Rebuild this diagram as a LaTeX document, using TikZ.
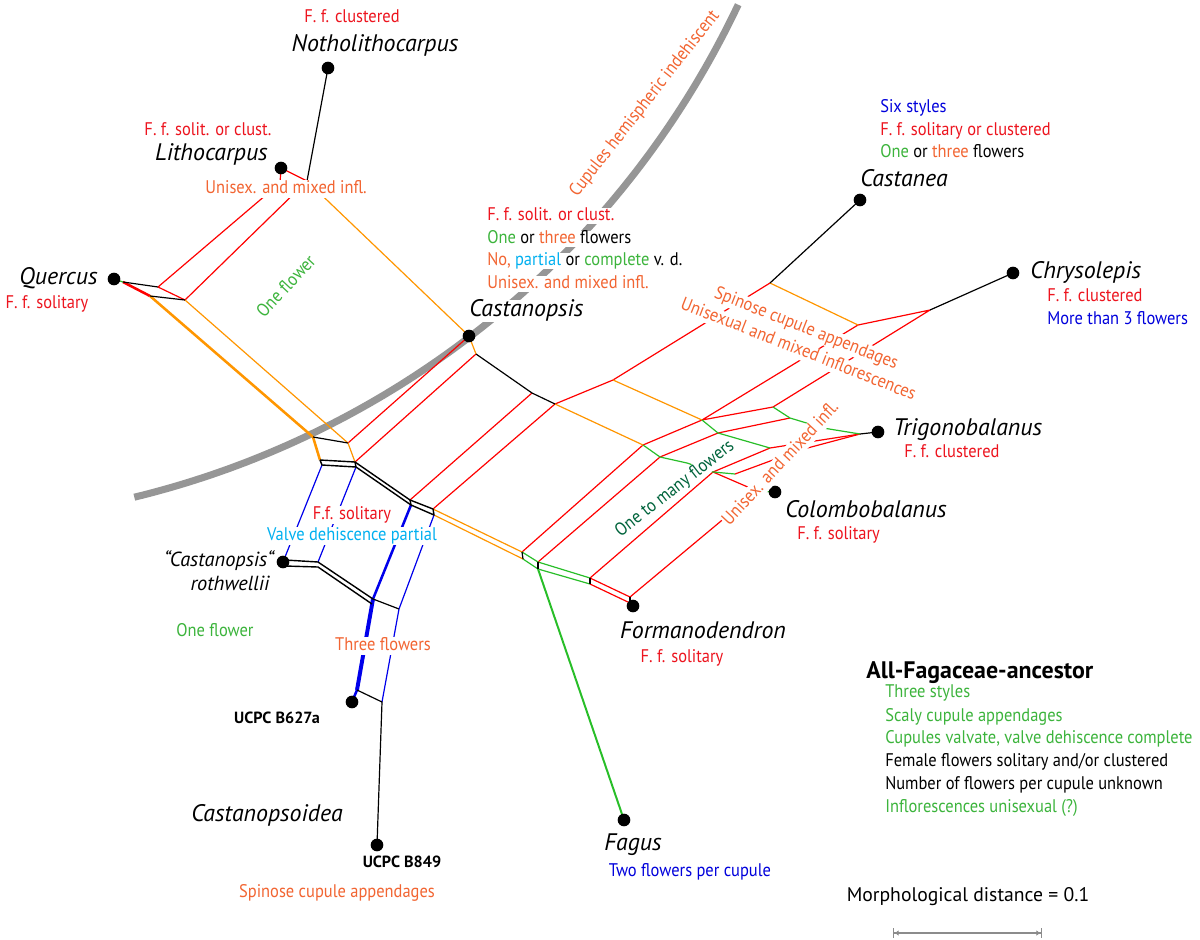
\documentclass[tikz,border=0pt]{standalone}
\usepackage{fontspec}
\setmainfont{PT Sans}
\newfontfamily\cnd[FakeStretch=0.9]{PT Sans}
\usetikzlibrary{arrows.meta}
\definecolor{lred}{RGB}{255,0,0}
\definecolor{lorg}{RGB}{255,150,0}
\definecolor{lgrn}{RGB}{40,190,40}
\definecolor{lblu}{RGB}{0,0,235}
\definecolor{tred}{RGB}{237,20,30}
\definecolor{torg}{RGB}{242,101,50}
\definecolor{tgrn}{RGB}{60,180,60}
\definecolor{tdgrn}{RGB}{0,100,60}
\definecolor{tblu}{RGB}{0,0,220}
\definecolor{tcyan}{RGB}{0,176,240}
\definecolor{arcgray}{RGB}{150,150,150}
\definecolor{sbgray}{RGB}{140,140,140}
\tikzset{
  eRed/.style={draw=lred, line width=0.85pt, line join=round},
  eRedT/.style={draw=lred, line width=1.8pt, line join=round},
  eOrg/.style={draw=lorg, line width=0.85pt, line join=round},
  eOrgT/.style={draw=lorg, line width=1.8pt, line join=round},
  eGrn/.style={draw=lgrn, line width=0.85pt, line join=round},
  eGrnT/.style={draw=lgrn, line width=1.4pt},
  eBlu/.style={draw=lblu, line width=0.85pt, line join=round},
  eBluT/.style={draw=lblu, line width=1.8pt},
  eBluTT/.style={draw=lblu, line width=2.8pt},
  eBlk/.style={draw=black, line width=0.85pt, line join=round},
  eBlkD/.style={draw=black, line width=1pt, line join=round},
  arcline/.style={draw=arcgray, line width=5pt},
  dot/.style={circle, fill=black, inner sep=0pt, minimum size=9pt},
  lab/.style={font=\cnd\fontsize{13}{15}\selectfont, inner sep=0pt, text height=9pt, text depth=2.5pt},
  halo/.style={fill=white, inner sep=0.6pt},
  tax/.style={font=\itshape\fontsize{17}{20}\selectfont, inner sep=0pt, text height=12pt, text depth=3.5pt},
  taxs/.style={font=\itshape\fontsize{14.5}{17}\selectfont, inner sep=0pt, text height=10pt, text depth=3pt},
  bld/.style={font=\bfseries\fontsize{11.5}{14}\selectfont, inner sep=0pt, text height=8.5pt, text depth=0pt},
  scalebar/.style={draw=sbgray, line width=1pt},
}
\begin{document}
\begin{tikzpicture}[x=0.025cm, y=-0.025cm]
\fill[white] (0,0) rectangle (1200,939);
\useasboundingbox (0,0) rectangle (1200,939);
% ---- coordinates ----
\coordinate (cNoth) at (328,68);
\coordinate (cLith) at (281,168);
\coordinate (cL2) at (280,183);
\coordinate (cN1) at (307,181);
\coordinate (cQ) at (114,279);
\coordinate (cQg) at (123,282);
\coordinate (cQa) at (158,287);
\coordinate (cQb) at (150,296);
\coordinate (cQc) at (185,300);
\coordinate (cR1) at (313,437);
\coordinate (cR2) at (348,443);
\coordinate (cR3) at (320,460);
\coordinate (cR4) at (355,462);
\coordinate (cR5) at (322,465);
\coordinate (cR6) at (356,467);
\coordinate (cP0) at (469,336);
\coordinate (cP1) at (476,354);
\coordinate (cP2) at (532,393);
\coordinate (cP3) at (555,404);
\coordinate (cA1) at (410,500);
\coordinate (cA2) at (411,505);
\coordinate (cB1) at (433,509);
\coordinate (cB2) at (434,515);
\coordinate (cC1) at (522,552);
\coordinate (cC2) at (523,559);
\coordinate (cD1) at (538,562);
\coordinate (cD2) at (538,569);
\coordinate (cE1) at (590,578);
\coordinate (cE2) at (590,584);
\coordinate (cF1) at (630,597);
\coordinate (cF2) at (630,603);
\coordinate (cForm) at (633,606);
\coordinate (cFagus) at (624,820);
\coordinate (cRw) at (283,562);
\coordinate (cRwa) at (285,560);
\coordinate (cRwb) at (285,566);
\coordinate (cRc) at (318,562);
\coordinate (cRc2) at (318,567);
\coordinate (cS1) at (373,599);
\coordinate (cS1b) at (372,604);
\coordinate (cS2) at (399,609);
\coordinate (cU1) at (357,690);
\coordinate (cU2) at (382,702);
\coordinate (cB627) at (352,702);
\coordinate (cB849) at (377,845);
\coordinate (cG1) at (613,380);
\coordinate (cG2) at (770,283);
\coordinate (cCast) at (860,200);
\coordinate (cG3) at (858,325);
\coordinate (cG4) at (930,310);
\coordinate (cChry) at (1013,273);
\coordinate (cH1) at (702,420);
\coordinate (cH2) at (773,407);
\coordinate (cK1) at (643,445);
\coordinate (cK2) at (660,457);
\coordinate (cK3) at (687,463);
\coordinate (cH3) at (718,433);
\coordinate (cH4) at (790,418);
\coordinate (cT0) at (823,428);
\coordinate (cT1) at (860,434);
\coordinate (cTrig) at (878,432);
\coordinate (cH5) at (770,448);
\coordinate (cM1) at (713,472);
\coordinate (cM2) at (735,474);
\coordinate (cX1) at (800,450);
\coordinate (cM3) at (757,491);
\coordinate (cCol) at (775,492);
\coordinate (sb1) at (893,933);
\coordinate (sb2) at (1042,933);
% ---- grey arc ----
\draw[arcline] plot[domain=25.3:76.3, samples=90] ({-80+905*cos(\x)},{-382+905*sin(\x)});
% ---- red edges ----
\draw[eRed] (cLith) -- (cN1);
\draw[eRed] (cLith) -- (cL2) -- (cQa) -- (cQc) -- (cN1);
\draw[eRedT] (cQg) -- (cQb);
\draw[eRed] (cR2) -- (cP0);
\draw[eRed] (cR4) -- (cP1);
\draw[eRed] (cA1) -- (cP2);
\draw[eRed] (cB1) -- (cP3) -- (cG1) -- (cG2);
\draw[eRed] (cG3) -- (cG4) -- (cH2) -- (cH1) -- (cG3);
\draw[eRed] (cK1) -- (cH1);
\draw[eRed] (cC1) -- (cK1);
\draw[eRed] (cD1) -- (cK2) -- (cH3) -- (cH4);
\draw[eRed] (cE1) -- (cM1) -- (cH5) -- (cT1);
\draw[eRed] (cM2) -- (cX1) -- (cT1);
\draw[eRed] (cM1) -- (cM3);
\draw[eRed] (cF1) -- (cM3);
\draw[eRed] (cE1) -- (cF1);
\draw[eRed] (cE2) -- (cF2) -- (cForm);
% ---- orange edges ----
\draw[eOrg] (cN1) -- (cP0) -- (cP1);
\draw[eOrgT] (cQb) -- (cR1) -- (cR3);
\draw[eOrg] (cQc) -- (cR2) -- (cR4);
\draw[eOrg] (cB1) -- (cC1);
\draw[eOrg] (cB2) -- (cC2);
\draw[eOrg] (cP3) -- (cK1);
\draw[eOrg] (cG1) -- (cH1);
\draw[eOrg] (cG2) -- (cG3);
% ---- green edges ----
\draw[eGrn] (cQ) -- (cQg);
\draw[eGrn] (cC1) -- (cD1) -- (cE1);
\draw[eGrn] (cC2) -- (cD2) -- (cE2);
\draw[eGrnT] (cD2) -- (cFagus);
\draw[eGrn] (cK1) -- (cK2) -- (cK3) -- (cM1);
\draw[eGrn] (cH1) -- (cH3) -- (cH5);
\draw[eGrn] (cH2) -- (cH4) -- (cT0) -- (cT1);
\draw[eGrn] (cM1) -- (cM2);
\draw[eGrn] (cM3) -- (cCol);
% ---- blue edges ----
\draw[eBlu] (cR5) -- (cRw);
\draw[eBlu] (cR6) -- (cRc);
\draw[eBluT] (cA2) -- (cS1);
\draw[eBluTT] (cS1) -- (cU1);
\draw[eBlu] (cB2) -- (cS2) -- (cU2);
\draw[eBluT] (cU1) -- (cB627);
% ---- black edges ----
\draw[eBlk] (cNoth) -- (cN1);
\draw[eBlk] (cQg) -- (cQa);
\draw[eBlk] (cQb) -- (cQc);
\draw[eBlk] (cR1) -- (cR2);
\draw[eBlkD] (cR3) -- (cR4) -- (cR6) -- (cR5) -- (cR3);
\draw[eBlk] (cP1) -- (cP2) -- (cP3);
\draw[eBlkD] (cR4) -- (cA1) -- (cB1) -- (cB2) -- (cA2) -- (cR6);
\draw[eBlkD] (cA1) -- (cA2);
\draw[eBlk] (cC1) -- (cC2);
\draw[eBlk] (cD1) -- (cD2);
\draw[eBlk] (cE1) -- (cE2);
\draw[eBlk] (cF1) -- (cF2);
\draw[eBlk] (cG2) -- (cCast);
\draw[eBlk] (cG4) -- (cChry);
\draw[eBlk] (cT1) -- (cTrig);
\draw[eBlkD] (cRwa) -- (cRc) -- (cS1);
\draw[eBlkD] (cRwb) -- (cRc2) -- (cS1b);
\draw[eBlk] (cS1) -- (cS2);
\draw[eBlk] (cU1) -- (cU2) -- (cB849);
% ---- taxa dots ----
\node[dot] (dNoth) at (cNoth) {};
\node[dot] (dLith) at (cLith) {};
\node[dot] (dQ) at (cQ) {};
\node[dot] (dCasp) at (cP0) {};
\node[dot] (dCast) at (cCast) {};
\node[dot] (dChry) at (cChry) {};
\node[dot] (dTrig) at (cTrig) {};
\node[dot] (dCol) at (cCol) {};
\node[dot] (dForm) at (cForm) {};
\node[dot] (dFagus) at (cFagus) {};
\node[dot] (dRw) at (cRw) {};
\node[dot] (dB627) at (cB627) {};
\node[dot] (dB849) at (cB849) {};
% ---- labels ----
\node[lab, text=tred] (tNothF) at (352,18) {F. f. clustered};
\node[tax] (tNoth) at (375,46) {Notholithocarpus};
\node[lab, text=tred] (tLithF) at (208,131) {F. f. solit. or clust.};
\node[tax, anchor=east] (tLith) at (268,155) {Lithocarpus};
\node[lab, halo, text=torg] (tLithU) at (286,189) {Unisex. and mixed infl.};
\node[tax, anchor=east] (tQ) at (98,279) {Quercus};
\node[lab, text=tred] (tQF) at (47,304) {F. f. solitary};
\node[lab, halo, text=tgrn, rotate=47] (tOneF) at (287,287) {One flower};
\node[lab, halo, text=torg, rotate=52] (tCup) at (645,104) {Cupules hemispheric indehiscent};
\node[lab, anchor=west, fill=white] (tCa1) at (487,216) {\textcolor{tred}{F. f. solit. or clust.}};
\node[lab, anchor=west, fill=white] (tCa2) at (487,239) {\textcolor{tgrn}{One} or \textcolor{torg}{three} flowers};
\node[lab, anchor=west, fill=white] (tCa3) at (487,261) {\textcolor{torg}{No,} \textcolor{tcyan}{partial} or \textcolor{tgrn}{complete} v. d.};
\node[lab, anchor=west, fill=white] (tCa4) at (487,284) {\textcolor{torg}{Unisex. and mixed infl.}};
\node[tax, anchor=west, fill=white] (tCasp) at (469,311) {Castanopsis};
\node[lab, anchor=west, text=tblu] (tCn1) at (880,108) {Six styles};
\node[lab, anchor=west, text=tred] (tCn2) at (880,131) {F. f. solitary or clustered};
\node[lab, anchor=west] (tCn3) at (880,153) {\textcolor{tgrn}{One} or \textcolor{torg}{three} flowers};
\node[tax, anchor=west] (tCast) at (860,181) {Castanea};
\node[tax, anchor=west] (tChry) at (1030,273) {Chrysolepis};
\node[lab, anchor=west, text=tred] (tChF) at (1047,297) {F. f. clustered};
\node[lab, anchor=west, text=tblu] (tChM) at (1047,320) {More than 3 flowers};
\node[lab, halo, text=torg, rotate=-21.5] (tSpin) at (806,329) {Spinose cupule appendages};
\node[lab, halo, text=torg, rotate=-21.5] (tUnis) at (798,350) {Unisexual and mixed inflorescences};
\node[tax, anchor=west] (tTrig) at (893,430) {Trigonobalanus};
\node[lab, anchor=west, text=tred] (tTrF) at (904,453) {F. f. clustered};
\node[lab, halo, text=torg, rotate=47] (tUnR) at (781,464) {Unisex. and mixed infl.};
\node[lab, halo, text=tdgrn, rotate=38] (tOtm) at (675,489) {One to many flowers};
\node[tax, anchor=west] (tCol) at (785,512) {Colombobalanus};
\node[lab, anchor=west, text=tred] (tCoF) at (797,535) {F. f. solitary};
\node[lab, halo, text=tred] (tFfs) at (352,515) {F.f. solitary};
\node[lab, halo, text=tcyan] (tVdp) at (352,536) {Valve dehiscence partial};
\node[taxs] (tRw1) at (219,562) {“Castanopsis“};
\node[taxs] (tRw2) at (230,586) {rothwellii};
\node[lab, text=tgrn] (tRw3) at (215,632) {One flower};
\node[lab, halo, text=torg] (tThr) at (383,646) {Three flowers};
\node[bld] (tB627) at (277,718) {UCPC B627a};
\node[tax] (tCsd) at (267,816) {Castanopsoidea};
\node[bld] (tB849) at (402,862) {UCPC B849};
\node[lab, text=torg] (tB849s) at (337,893) {Spinose cupule appendages};
\node[tax] (tForm) at (703,633) {Formanodendron};
\node[lab, text=tred] (tFoF) at (682,658) {F. f. solitary};
\node[tax] (tFag) at (633,845) {Fagus};
\node[lab, text=tblu] (tFaT) at (690,872) {Two flowers per cupule};
\node[font=\bfseries\fontsize{17}{20}\selectfont, inner sep=0pt, anchor=west, text height=12pt, text depth=0pt] (tAnc) at (866,670) {All-Fagaceae-ancestor};
\node[lab, anchor=west, text=tgrn] (tAn1) at (885,693) {Three styles};
\node[lab, anchor=west, text=tgrn] (tAn2) at (885,717) {Scaly cupule appendages};
\node[lab, anchor=west, text=tgrn] (tAn3) at (885,739) {Cupules valvate, valve dehiscence complete};
\node[lab, anchor=west] (tAn4) at (885,762) {Female flowers solitary and/or clustered};
\node[lab, anchor=west] (tAn5) at (885,785) {Number of flowers per cupule unknown};
\node[lab, anchor=west, text=tgrn] (tAn6) at (885,808) {Inflorescences unisexual (?)};
\node[font=\fontsize{14}{16}\selectfont, inner sep=0pt] (tMd) at (968,897) {Morphological distance = 0.1};
\draw[scalebar, {Bar[width=7pt]Latex[length=3pt,width=4pt]}-{Latex[length=3pt,width=4pt]Bar[width=7pt]}] (sb1) -- (sb2);
\end{tikzpicture}
\end{document}
